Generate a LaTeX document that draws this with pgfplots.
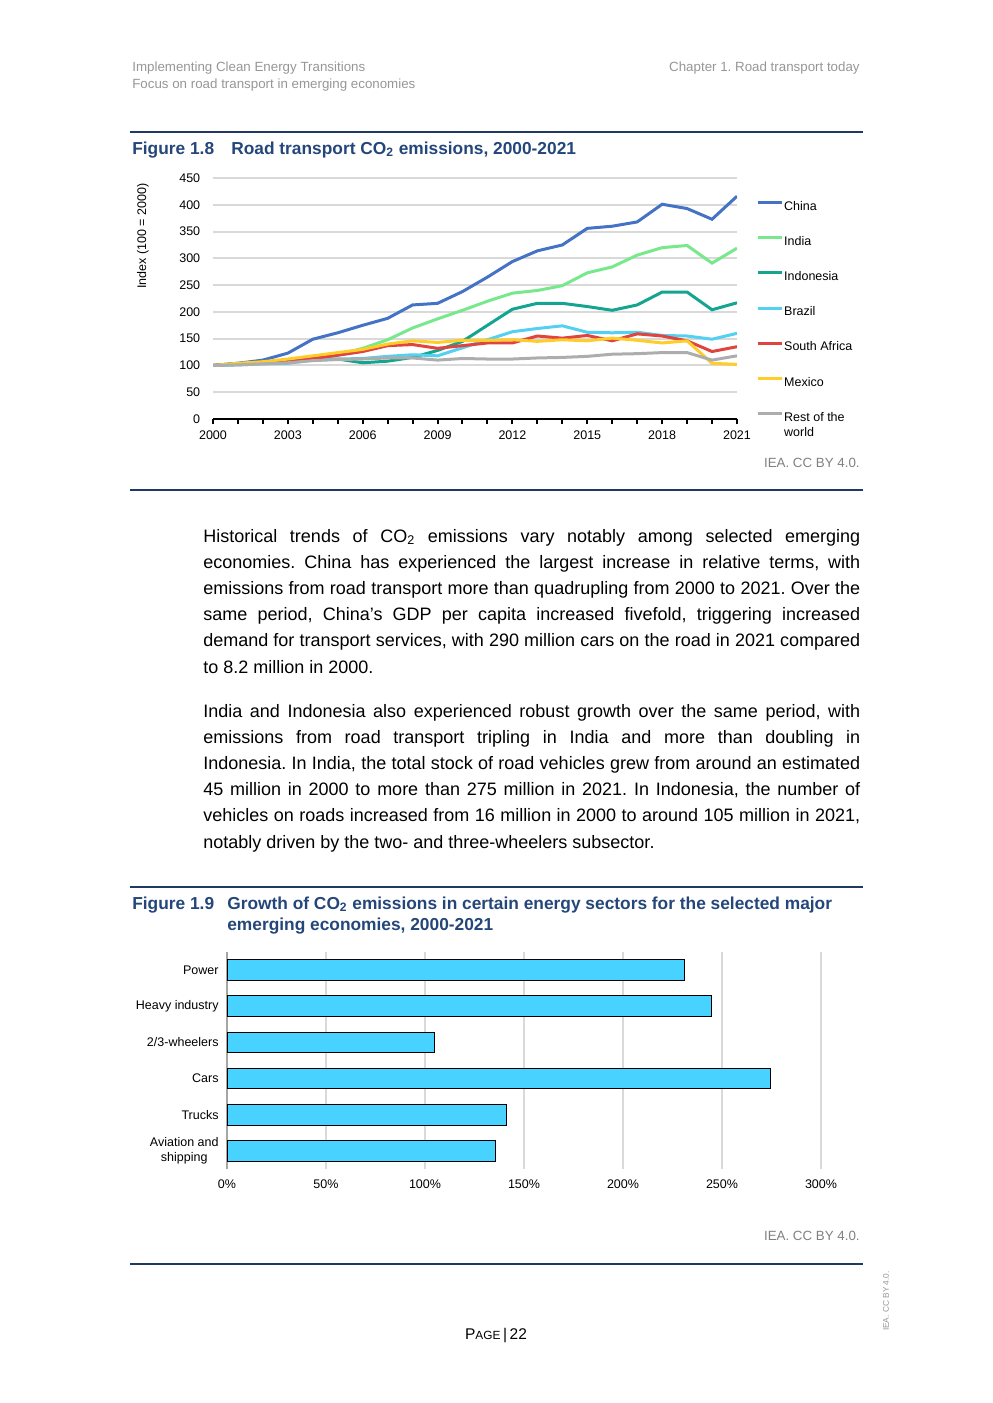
\documentclass[border=0pt]{standalone}
\usepackage{fontspec}
\setmainfont{Liberation Sans}
\usepackage{pgfplots}
\pgfplotsset{compat=1.18}
\usepackage{pgfplotstable}
\frenchspacing

\definecolor{china}{RGB}{68,114,196}
\definecolor{india}{RGB}{119,232,140}
\definecolor{indonesia}{RGB}{19,165,143}
\definecolor{brazil}{RGB}{84,208,240}
\definecolor{safrica}{RGB}{224,68,62}
\definecolor{mexico}{RGB}{255,204,41}
\definecolor{restw}{RGB}{173,173,173}
\definecolor{barcyan}{RGB}{71,210,255}
\definecolor{gridgray}{RGB}{217,217,217}
\definecolor{axisgray}{RGB}{166,166,166}
\definecolor{headgray}{RGB}{150,150,150}
\definecolor{ieagray}{RGB}{128,128,128}
\definecolor{titleblue}{RGB}{36,70,122}
\definecolor{rulecol}{RGB}{31,56,100}

\pgfplotstableread{
year China India Indonesia Brazil SAfrica Mexico Rest
2000 100 100 100 100 100 100 100
2001 104 103 104 101 103 104 101
2002 110 106 106 103 106 107 103
2003 123 110 108 104 108 112 105
2004 149 115 112 110 113 118 109
2005 161 120 112 112 119 124 111
2006 175 132 105 113 126 130 112
2007 188 148 108 117 137 140 114
2008 213 170 115 120 139 146 114
2009 216 187 128 118 132 143 110
2010 238 203 145 133 137 147 113
2011 265 220 175 148 142 147 112
2012 294 235 205 163 142 148 112
2013 314 240 216 169 155 145 114
2014 325 249 216 174 151 148 115
2015 356 273 210 162 156 146 117
2016 360 284 203 161 146 151 121
2017 368 306 213 162 159 147 122
2018 401 320 237 156 155 142 124
2019 393 324 237 155 146 146 124
2020 373 291 204 149 126 104 110
2021 416 319 217 160 135 102 118
}\roaddata

\newcommand\bodyfont{\fontsize{10.8}{13}\selectfont}
\newcommand\titlefont{\fontsize{10.4}{12.5}\selectfont\bfseries}
\newcommand\chartfont{\fontsize{7.5}{9}\selectfont}

\begin{document}
\begin{tikzpicture}
\path[use as bounding box] (0,0) rectangle (595.2pt,-841.8pt);
\begin{scope}[x=0.6pt,y=-0.6pt]
% header
\node[anchor=base west, inner sep=0, text=headgray, font=\fontsize{8}{9.6}\selectfont] at (132,71) {Implementing Clean Energy Transitions};
\node[anchor=base west, inner sep=0, text=headgray, font=\fontsize{8}{9.6}\selectfont] at (132,88) {Focus on road transport in emerging economies};
\node[anchor=base east, inner sep=0, text=headgray, font=\fontsize{8}{9.6}\selectfont] at (860,71) {Chapter 1. Road transport today};
% rules
\draw[rulecol, line width=1.2pt] (130,132) -- (863,132);
\draw[rulecol, line width=1.2pt] (130,490) -- (863,490);
\draw[rulecol, line width=1.2pt] (130,887) -- (863,887);
\draw[rulecol, line width=1.2pt] (130,1264) -- (863,1264);
% figure 1.8 title
\node[anchor=base west, inner sep=0, text=titleblue, font=\titlefont] at (132,154) {Figure 1.8};
\node[anchor=base west, inner sep=0, text=titleblue, font=\titlefont] at (231,154) {Road transport CO\textsubscript{2} emissions, 2000-2021};
\node[anchor=base east, inner sep=0, text=ieagray, font=\fontsize{8}{9.6}\selectfont] at (860,467) {IEA. CC BY 4.0.};
% body text
\node[anchor=base west, inner sep=0, font=\bodyfont] at (203,542) {\makebox[394.2pt][s]{Historical trends of CO\textsubscript{2} emissions vary notably among selected emerging}};
\node[anchor=base west, inner sep=0, font=\bodyfont] at (203,568.2) {\makebox[394.2pt][s]{economies. China has experienced the largest increase in relative terms, with}};
\node[anchor=base west, inner sep=0, font=\bodyfont] at (203,594.4) {\makebox[394.2pt][s]{emissions from road transport more than quadrupling from 2000 to 2021. Over the}};
\node[anchor=base west, inner sep=0, font=\bodyfont] at (203,620.6) {\makebox[394.2pt][s]{same period, China’s GDP per capita increased fivefold, triggering increased}};
\node[anchor=base west, inner sep=0, font=\bodyfont] at (203,646.8) {\makebox[394.2pt][s]{demand for transport services, with 290 million cars on the road in 2021 compared}};
\node[anchor=base west, inner sep=0, font=\bodyfont] at (203,673) {to 8.2 million in 2000.};
\node[anchor=base west, inner sep=0, font=\bodyfont] at (203,717) {\makebox[394.2pt][s]{India and Indonesia also experienced robust growth over the same period, with}};
\node[anchor=base west, inner sep=0, font=\bodyfont] at (203,743.2) {\makebox[394.2pt][s]{emissions from road transport tripling in India and more than doubling in}};
\node[anchor=base west, inner sep=0, font=\bodyfont] at (203,769.4) {\makebox[394.2pt][s]{Indonesia. In India, the total stock of road vehicles grew from around an estimated}};
\node[anchor=base west, inner sep=0, font=\bodyfont] at (203,795.6) {\makebox[394.2pt][s]{45 million in 2000 to more than 275 million in 2021. In Indonesia, the number of}};
\node[anchor=base west, inner sep=0, font=\bodyfont] at (203,821.8) {\makebox[394.2pt][s]{vehicles on roads increased from 16 million in 2000 to around 105 million in 2021,}};
\node[anchor=base west, inner sep=0, font=\bodyfont] at (203,848) {notably driven by the two- and three-wheelers subsector.};
% figure 1.9 title
\node[anchor=base west, inner sep=0, text=titleblue, font=\titlefont] at (132,909) {Figure 1.9};
\node[anchor=base west, inner sep=0, text=titleblue, font=\titlefont] at (227,909) {Growth of CO\textsubscript{2} emissions in certain energy sectors for the selected major};
\node[anchor=base west, inner sep=0, text=titleblue, font=\titlefont] at (227,930) {emerging economies, 2000-2021};
\node[anchor=base east, inner sep=0, text=ieagray, font=\fontsize{8}{9.6}\selectfont] at (860,1240) {IEA. CC BY 4.0.};
% footer
\node[anchor=base, inner sep=0] at (496,1339) {{\fontsize{9.3}{11}\selectfont P}{\fontsize{7.1}{9}\selectfont AGE}{\fontsize{9.3}{11}\selectfont\,|\,22}};
\node[rotate=90, inner sep=0, text=headgray, font=\fontsize{5}{6}\selectfont] at (886,1301) {IEA. CC BY 4.0.};
\end{scope}

% ---------- Figure 1.8 ----------
\begin{axis}[
  at={(127.8pt,-251.4pt)}, anchor=south west,
  scale only axis, width=314.4pt, height=144.6pt,
  xmin=2000, xmax=2021, ymin=0, ymax=450,
  xtick={2000,2003,...,2021}, minor xtick={2000,...,2021},
  ytick={0,50,...,450},
  axis x line*=bottom, axis y line*=left,
  x axis line style={-, black, line width=1.2pt},
  y axis line style={draw=none},
  ytick style={draw=none},
  xtick style={black, line width=1.2pt},
  minor tick style={black, line width=1.2pt},
  tick align=outside, major tick length=3pt, minor tick length=3pt,
  ymajorgrids, grid style={gridgray, line width=1.2pt},
  /pgf/number format/assume math mode=true,
  tick label style={font=\chartfont},
  xticklabel style={/pgf/number format/1000 sep={}, inner sep=0pt, anchor=north, yshift=-3.6pt},
  yticklabel style={inner sep=0pt, anchor=east, xshift=-4.5pt},
  ylabel={Index (100 = 2000)},
  ylabel style={font=\chartfont, at={(rel axis cs:-0.1336,0.759)}, anchor=center},
  legend style={at={(rel axis cs:1.036,0.906)}, anchor=north west, draw=none, fill=none,
    inner sep=0pt, row sep=14.1pt, font=\chartfont,
    nodes={inner sep=0pt, text height=5.5pt, text depth=1.5pt},
    /tikz/every odd column/.append style={column sep=0.6pt}},
  legend cell align=left,
  legend image code/.code={\draw[#1] (0pt,2.6pt) -- (14.4pt,2.6pt);},
  every axis plot/.append style={line width=1.8pt},
]
\addplot[china] table[x=year, y=China] {\roaddata};
\addlegendentry{China}
\addplot[india] table[x=year, y=India] {\roaddata};
\addlegendentry{India}
\addplot[indonesia] table[x=year, y=Indonesia] {\roaddata};
\addlegendentry{Indonesia}
\addplot[brazil] table[x=year, y=Brazil] {\roaddata};
\addlegendentry{Brazil}
\addplot[safrica] table[x=year, y=SAfrica] {\roaddata};
\addlegendentry{South Africa}
\addplot[mexico] table[x=year, y=Mexico] {\roaddata};
\addlegendentry{Mexico}
\addplot[restw] table[x=year, y=Rest] {\roaddata};
\addlegendentry{\smash{\begin{tabular}[t]{@{}l@{}}Rest of the\\world\end{tabular}}}
\end{axis}

% ---------- Figure 1.9 ----------
\begin{axis}[
  at={(136.2pt,-571.2pt)}, anchor=north west,
  scale only axis, width=356.4pt, height=130.2pt,
  xbar, bar width=12.4pt,
  xmin=0, xmax=300, ymin=-0.5, ymax=5.5,
  ytick={0,...,5},
  yticklabels={{Aviation and\\shipping},Trucks,Cars,2/3-wheelers,Heavy industry,Power},
  xtick={0,50,...,300},
  xticklabel={\pgfmathprintnumber{\tick}\%},
  /pgf/number format/assume math mode=true,
  xmajorgrids, grid style={gridgray, line width=0.9pt},
  axis x line*=bottom, axis y line*=left,
  x axis line style={draw=none},
  y axis line style={-, axisgray, line width=1.5pt},
  tick style={draw=none},
  tick label style={font=\chartfont},
  yticklabel style={align=center, inner sep=0pt, anchor=east, xshift=-0.6pt},
  xticklabel style={inner sep=0pt, anchor=north, yshift=-6pt},
]
\addplot[fill=barcyan, draw=black, line width=0.6pt] coordinates {(135.5,0) (141,1) (274.5,2) (105,3) (244.5,4) (231,5)};
\end{axis}
\end{tikzpicture}
\end{document}
